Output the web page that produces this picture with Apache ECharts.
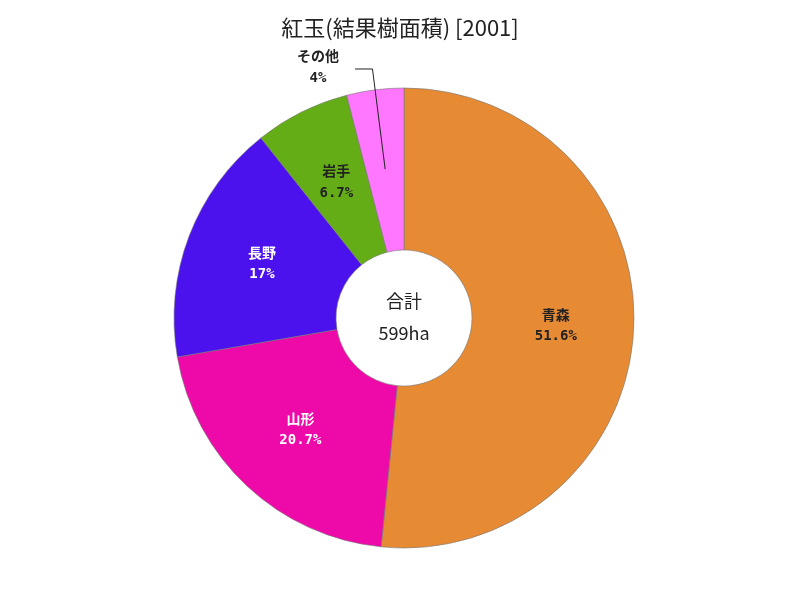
<!DOCTYPE html>
<html><head><meta charset="utf-8">
<script src="https://cdn.jsdelivr.net/npm/echarts@6/dist/echarts.min.js"></script>
<style>html,body{margin:0;padding:0;background:#fff}#c{width:800px;height:600px}</style>
</head><body><div id="c"></div>
<script>
const categories = ['青森', '山形', '長野', '岩手', 'その他'];
const values = [309, 124, 102, 40, 24];
const percents = ['51.6%', '20.7%', '17%', '6.7%', '4%'];
const colors = ['#E68A33', '#EE0AA8', '#4B12EE', '#65AD16', '#FF77FF'];
const labelColors = ['#222', '#fff', '#fff', '#222', '#222'];
const total = 599;
const unit = 'ha';

const cx = 404, cy = 318, r0 = 68, r1 = 230;
const sum = values.reduce((a, b) => a + b, 0);

// leader line for the last (outside-labelled) slice, derived from its mid angle
let before = 0;
for (let k = 0; k < values.length - 1; k++) before += values[k];
const midAng = (before + values[values.length - 1] / 2) / sum * 2 * Math.PI;
const lp1 = [cx + 150 * Math.sin(midAng), cy - 150 * Math.cos(midAng)];
const lp2 = [cx + 251 * Math.sin(midAng), cy - 251 * Math.cos(midAng)];
const lp3 = [355, lp2[1]];

const chart = echarts.init(document.getElementById('c'));
const data = categories.map((n, i) => {
  const item = {
    name: n, value: values[i],
    itemStyle: { color: colors[i] },
    label: { color: labelColors[i] }
  };
  if (n === 'その他') {
    item.label = { position: 'outside', color: '#222' };
  }
  return item;
});
chart.setOption({
  animation: false,
  title: {
    text: '紅玉(結果樹面積) [2001]', left: 'center', top: 12,
    textStyle: { fontFamily: 'Noto Sans CJK JP', fontSize: 22, fontWeight: 'normal', color: '#222' }
  },
  graphic: [
    { type: 'text', x: cx, y: 301, style: { text: '合計', fontFamily: 'Noto Sans CJK JP', fontSize: 18, fill: '#222', align: 'center', verticalAlign: 'middle' } },
    { type: 'text', x: cx, y: 333, style: { text: total + unit, fontFamily: 'Noto Sans CJK JP', fontSize: 18, fill: '#222', align: 'center', verticalAlign: 'middle' } },
    { type: 'polyline', z: 100, shape: { points: [lp1, lp2, lp3] }, style: { stroke: '#222', lineWidth: 1, fill: null } }
  ],
  series: [{
    type: 'pie',
    center: [cx, cy],
    radius: [r0, r1],
    startAngle: 90,
    clockwise: true,
    data: data,
    itemStyle: { borderColor: '#777', borderWidth: 0.6 },
    label: {
      position: 'inside',
      formatter: p => '{n|' + p.name + '}\n{v|' + percents[p.dataIndex] + '}',
      rich: {
        n: { fontFamily: 'Noto Sans CJK JP', fontSize: 14, fontWeight: 'bold', lineHeight: 22 },
        v: { fontFamily: 'DejaVu Sans Mono', fontSize: 14, fontWeight: 'bold', lineHeight: 22 }
      }
    },
    labelLine: { show: false },
    labelLayout: function (params) {
      if (params.dataIndex === 4) {
        return { x: 318, y: 67, align: 'center', verticalAlign: 'middle', moveOverlap: false };
      }
      return {};
    }
  }]
});
</script></body></html>
